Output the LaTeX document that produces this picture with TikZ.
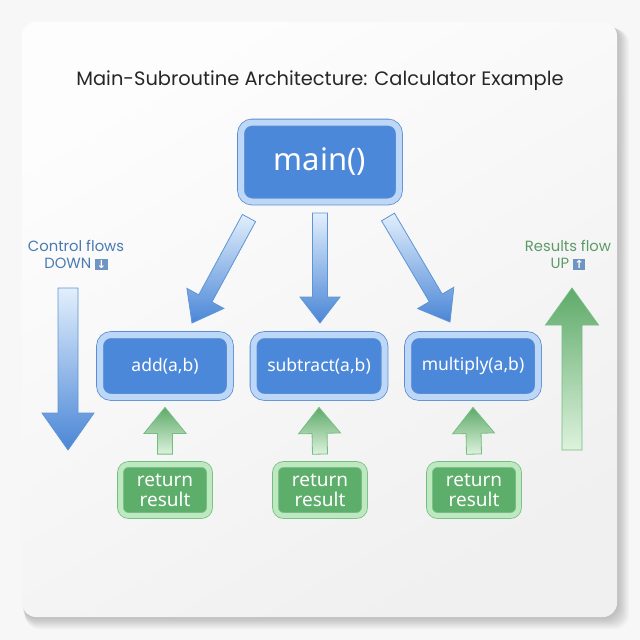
\documentclass[tikz,border=0pt]{standalone}
\usepackage{fontspec}
\setmainfont{Noto Sans}
\newfontfamily\headfont{Poppins}
\newfontfamily\symfont{DejaVu Sans}
\usetikzlibrary{calc,shadows}

\definecolor{pagebg}{HTML}{F7F7F7}
\definecolor{cardtop}{HTML}{FDFDFD}
\definecolor{cardbot}{HTML}{F0F0F0}
\definecolor{titlegray}{HTML}{262626}
\definecolor{bluefill}{HTML}{4C88D9}
\definecolor{bluerim}{HTML}{BCD7F7}
\definecolor{blueedge}{HTML}{5B8ED0}
\definecolor{arrowlight}{HTML}{E2EFFC}
\definecolor{arrowblue}{HTML}{4A86D6}
\definecolor{arrowedge}{HTML}{5E95D6}
\definecolor{greenfill}{HTML}{5DAD6B}
\definecolor{greenrim}{HTML}{BDE8C0}
\definecolor{greenedge}{HTML}{74BD82}
\definecolor{greenlight}{HTML}{DDF2DD}
\definecolor{greendark}{HTML}{5EAA69}
\definecolor{ctltext}{HTML}{4A7AB2}
\definecolor{restext}{HTML}{5C9B69}
\definecolor{iconblue}{HTML}{6F95C4}

% block arrow from tail #1 to tip #2: shaft half-width #3, head half-width #4, head length #5, style #6
\newcommand\blockarrow[6]{%
  \coordinate (ba-n) at ($(#2)!#5!(#1)$);
  \path[#6] ($(#1)!#3!90:(#2)$) -- ($(ba-n)!#3!-90:(#1)$) -- ($(ba-n)!#4!-90:(#1)$)
    -- (#2) -- ($(ba-n)!#4!90:(#1)$) -- ($(ba-n)!#3!90:(#1)$) -- ($(#1)!#3!-90:(#2)$) -- cycle;
}
\newcommand\iconbox[1]{{\setlength\fboxsep{1.6pt}\colorbox{iconblue}{\textcolor{white}{\symfont\bfseries\fontsize{11}{11}\selectfont #1}}}}

\begin{document}
\begin{tikzpicture}[x=1pt,y=-1pt,
  fnbox/.style={draw=blueedge, line width=0.8pt, double=bluerim, double distance=6pt,
    fill=bluefill, rounded corners=11pt, text=white, inner sep=0pt,
    drop shadow={opacity=0.12, shadow xshift=0.6pt, shadow yshift=-2pt}},
  retbox/.style={draw=greenedge, line width=0.8pt, double=greenrim, double distance=5pt,
    fill=greenfill, rounded corners=8pt, text=white, inner sep=0pt, align=center,
    minimum width=89pt, minimum height=51pt,
    font=\fontsize{19}{20}\selectfont,
    drop shadow={opacity=0.12, shadow xshift=0.5pt, shadow yshift=-1.5pt}},
  downflow/.style={top color=arrowlight, bottom color=arrowblue, draw=arrowedge, line width=0.8pt},
  upflow/.style={top color=greendark, bottom color=greenlight, draw=greenedge, line width=0.8pt},
  sidelabel/.style={align=center, font=\headfont\fontsize{14.8}{17.5}\selectfont}
]
\useasboundingbox (0,0) rectangle (640,640);
\fill[pagebg] (0,0) rectangle (640,640);

% soft shadow under the card
\foreach \s in {1,...,10}
  \fill[black, opacity=0.025, rounded corners=14pt]
    (22+0.3*\s, 24+0.5*\s) rectangle (617+1.2*\s, 617+1.2*\s);
% card
\path[rounded corners=14pt, top color=cardtop, bottom color=cardbot, shading angle=30]
  (22,22) rectangle (617,617);

% title
\node[font=\headfont\fontsize{19.4}{21}\selectfont, text=titlegray] (title) at (320,81)
  {Main-Subroutine Architecture: Calculator Example};

% main routine and subroutines
\node[fnbox, minimum width=158pt, minimum height=79pt, font=\fontsize{31}{33}\selectfont]
  (main) at (320,162) {main()};
\node[fnbox, minimum width=130pt, minimum height=62pt, font=\fontsize{17.5}{20}\selectfont]
  (add) at (165,366) {add(a,b)};
\node[fnbox, minimum width=131pt, minimum height=62pt, font=\fontsize{17.5}{20}\selectfont]
  (sub) at (319,366) {subtract(a,b)};
\node[fnbox, minimum width=130pt, minimum height=62pt, font=\fontsize{17.5}{20}\selectfont]
  (mul) at (473,366) {multiply(a,b)};

% return values
\node[retbox] (ret1) at (165,490) {return\\result};
\node[retbox] (ret2) at (320,490) {return\\result};
\node[retbox] (ret3) at (474,490) {return\\result};

% calls: main -> subroutines
\coordinate (c1s) at (249,218);
\coordinate (c1e) at (192,323);
\coordinate (c2s) at (320,213);
\coordinate (c2e) at (320,323);
\coordinate (c3s) at (388,217);
\coordinate (c3e) at (450,322);
\blockarrow{c1s}{c1e}{7.5pt}{21pt}{28pt}{downflow}
\blockarrow{c2s}{c2e}{7.5pt}{20pt}{26pt}{downflow}
\blockarrow{c3s}{c3e}{7.5pt}{21pt}{28pt}{downflow}

% returns: results -> subroutines
\coordinate (r1s) at ($(ret1.north)+(0,-10)$);
\coordinate (r1e) at ($(add.south)+(0,10)$);
\coordinate (r2s) at ($(ret2.north)+(0,-10)$);
\coordinate (r2e) at ($(sub.south)+(0,10)$);
\coordinate (r3s) at ($(ret3.north)+(0,-10)$);
\coordinate (r3e) at ($(mul.south)+(0,10)$);
\blockarrow{r1s}{r1e}{7.5pt}{21pt}{26pt}{upflow}
\blockarrow{r2s}{r2e}{7.5pt}{21pt}{26pt}{upflow}
\blockarrow{r3s}{r3e}{7.5pt}{21pt}{26pt}{upflow}

% side legend: control flow
\node[sidelabel, text=ctltext] (ctl) at (76,255) {Control flows\\DOWN \iconbox{↓}};
\coordinate (ctls) at (68,288);
\coordinate (ctle) at (68,450);
\blockarrow{ctls}{ctle}{10pt}{26pt}{37pt}{downflow}

% side legend: results flow
\node[sidelabel, text=restext] (res) at (568,255) {Results flow\\UP \iconbox{↑}};
\coordinate (ress) at (572,450);
\coordinate (rese) at (572,288);
\blockarrow{ress}{rese}{10pt}{26.5pt}{37pt}{upflow}
\end{tikzpicture}
\end{document}
